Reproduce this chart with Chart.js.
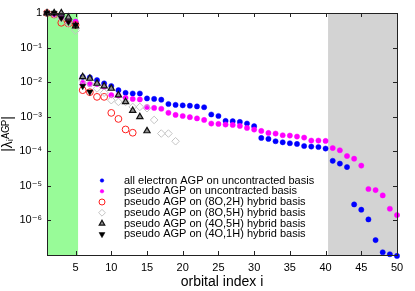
<!DOCTYPE html>
<html><head><meta charset="utf-8">
<script src="https://cdn.jsdelivr.net/npm/chart.js@4/dist/chart.umd.min.js"></script>
<style>html,body{margin:0;padding:0;background:#fff}#wrap{width:415px;height:291px}</style>
</head><body><div id="wrap"><canvas id="c" width="415" height="291"></canvas></div>
<script>
// ---- data ----
const seriesLabels = [
  'all electron AGP on uncontracted basis',
  'pseudo AGP on uncontracted basis',
  'pseudo AGP on (8O,2H) hybrid basis',
  'pseudo AGP on (8O,5H) hybrid basis',
  'pseudo AGP on (4O,5H) hybrid basis',
  'pseudo AGP on (4O,1H) hybrid basis'
];
const allElectronUncontracted = [
  1.0, 0.95, 0.8, 0.62, 0.55, 0.01425, 0.01368, 0.01143, 0.00917, 0.0077,
  0.00586, 0.0049, 0.0047, 0.0047, 0.00337, 0.00328, 0.00311, 0.00233, 0.0022, 0.00213,
  0.00208, 0.00198, 0.00188, 0.00116, 0.00105, 0.000755, 0.000741, 0.000707, 0.000635, 0.000531,
  0.000243, 0.000228, 0.000195, 0.000182, 0.000171, 0.000163, 0.000142, 0.000137, 0.000133, 0.00012,
  5.3e-5, 4.4e-5, 3.5e-5, 2.9e-6, 2.04e-6, 1.07e-6, 2.7e-7, 1.2e-7, 1.05e-7, 9.4e-8
];
const pseudoUncontracted = [
  1.0, 0.9, 0.75, 0.58, 0.56, 0.00955, 0.00875, 0.00875, 0.0073, 0.0042,
  0.00411, 0.00351, 0.00326, 0.00317, 0.00191, 0.0018, 0.0017, 0.0013, 0.00113, 0.00105,
  0.00097, 0.000893, 0.000807, 0.000635, 0.000618, 0.000594, 0.000578, 0.000541, 0.000473, 0.000425,
  0.000388, 0.000339, 0.000326, 0.000291, 0.000285, 0.000267, 0.000249, 0.000204, 0.000204, 0.000199,
  0.000124, 0.000107, 7.3e-5, 6.1e-5, 3.85e-5, 8.1e-6, 7.55e-6, 5.3e-6, 2.18e-6, 1.43e-6
];
const pseudo8O2H = [
  1.0, 0.9, 0.52, 0.5, 0.45, 0.00586, 0.00513, 0.00375, 0.00375, 0.00129,
  0.000863, 0.000428, 0.000344
];
const pseudo8O5H = [
  1.0, 0.9, 0.7, 0.5, 0.31, 0.0114, 0.00917, 0.00656, 0.00496, 0.00301,
  0.00268, 0.00268, 0.00192, 0.00192, 0.00176, 0.000807, 0.000326, 0.000326, 0.000195
];
const pseudo4O5H = [
  1.0, 1.0, 1.0, 0.75, 0.42, 0.01425, 0.0128, 0.00917, 0.00766, 0.00656,
  0.0042, 0.00268, 0.00151, 0.00099, 0.000388
];
const pseudo4O1H = [
  1.0, 1.0, 0.72, 0.55, 0.45, 0.00766, 0.00524
];
const xTickValues = [5, 10, 15, 20, 25, 30, 35, 40, 45, 50];
const yTickValues = [1, 1e-1, 1e-2, 1e-3, 1e-4, 1e-5, 1e-6];
const yTickLabels = ['1', '10\u207B\u00B9', '10\u207B\u00B2', '10\u207B\u00B3', '10\u207B\u2074', '10\u207B\u2075', '10\u207B\u2076'];
const greenRange = [1, 5.35];
const grayRange = [40.35, 50];

// ---- build ----
const toPts = arr => arr.map((v, k) => ({x: k + 1, y: v}));
const styles = [
  {pointStyle: 'circle', radius: 2.6, bg: '#0000ff', bc: '#0000ff', bw: 0.5, rot: 0, lr: 1.8},
  {pointStyle: 'circle', radius: 2.6, bg: '#ff00ff', bc: '#ff00ff', bw: 0.5, rot: 0, lr: 1.8},
  {pointStyle: 'circle', radius: 3.4, bg: 'rgba(0,0,0,0)', bc: '#ff2020', bw: 1, rot: 0, lr: 3},
  {pointStyle: 'rectRot', radius: 3.8, bg: 'rgba(0,0,0,0)', bc: '#c4c4c4', bw: 1, rot: 0, lr: 3.4},
  {pointStyle: 'triangle', radius: 3.6, bg: '#909090', bc: '#111111', bw: 1.2, rot: 0, lr: 3.2},
  {pointStyle: 'triangle', radius: 3.6, bg: '#000000', bc: '#000000', bw: 0.5, rot: 180, lr: 3.4}
];
const allSeries = [allElectronUncontracted, pseudoUncontracted, pseudo8O2H, pseudo8O5H, pseudo4O5H, pseudo4O1H];
const datasets = allSeries.map((arr, k) => ({
  label: seriesLabels[k],
  data: toPts(arr),
  pointStyle: styles[k].pointStyle,
  pointRadius: styles[k].radius,
  pointBackgroundColor: styles[k].bg,
  pointBorderColor: styles[k].bc,
  pointBorderWidth: styles[k].bw,
  pointRotation: styles[k].rot,
  showLine: false,
  clip: false,
  order: 6 - k
}));

const FONT = "'Liberation Sans', 'DejaVu Sans', Arial, sans-serif";

const decor = {
  id: 'decor',
  beforeDatasetsDraw(chart) {
    const {ctx, chartArea: a, scales: {x}} = chart;
    ctx.save();
    ctx.fillStyle = '#98fb98';
    const g0 = x.getPixelForValue(greenRange[0]), g1 = x.getPixelForValue(greenRange[1]);
    ctx.fillRect(g0, a.top, g1 - g0, a.bottom - a.top);
    ctx.fillStyle = '#d3d3d3';
    const r0 = x.getPixelForValue(grayRange[0]), r1 = x.getPixelForValue(grayRange[1]);
    ctx.fillRect(r0, a.top, r1 - r0, a.bottom - a.top);
    ctx.restore();
  },
  afterDatasetsDraw(chart) {
    const {ctx, chartArea: a, scales: {x, y}} = chart;
    ctx.save();
    ctx.strokeStyle = '#222';
    ctx.lineWidth = 1;
    ctx.strokeRect(Math.round(a.left) + 0.5, Math.round(a.top) + 0.5, Math.round(a.right - a.left), Math.round(a.bottom - a.top));
    ctx.beginPath();
    x.ticks.forEach(t => {
      const px = Math.round(x.getPixelForValue(t.value)) + 0.5;
      ctx.moveTo(px, a.bottom); ctx.lineTo(px, a.bottom - 4);
      ctx.moveTo(px, a.top); ctx.lineTo(px, a.top + 4);
    });
    y.ticks.forEach(t => {
      const py = Math.round(y.getPixelForValue(t.value)) + 0.5;
      ctx.moveTo(a.left, py); ctx.lineTo(a.left + 4, py);
      ctx.moveTo(a.right, py); ctx.lineTo(a.right - 4, py);
    });
    ctx.stroke();
    // legend inside plot
    ctx.font = '11px ' + FONT;
    ctx.textBaseline = 'middle';
    const mx = 102, tx = 124, y0 = 180.5, dy = 10.75;
    chart.data.datasets.forEach((ds, k) => {
      const yy = y0 + k * dy;
      ctx.fillStyle = ds.pointBackgroundColor;
      ctx.strokeStyle = ds.pointBorderColor;
      ctx.lineWidth = ds.pointBorderWidth;
      Chart.helpers.drawPoint(ctx, {
        pointStyle: ds.pointStyle, rotation: ds.pointRotation,
        radius: styles[k].lr, borderWidth: ds.pointBorderWidth
      }, mx, yy);
      ctx.fillStyle = '#000';
      ctx.fillText(ds.label, tx, yy);
    });
    ctx.restore();
  }
};

new Chart(document.getElementById('c'), {
  type: 'scatter',
  data: {datasets},
  options: {
    responsive: false,
    animation: false,
    devicePixelRatio: 1,
    layout: {padding: {left: 0, right: 18, top: 13, bottom: 0}},
    plugins: {legend: {display: false}, tooltip: {enabled: false}},
    scales: {
      x: {
        type: 'linear', min: 1, max: 50,
        afterBuildTicks: s => { s.ticks = xTickValues.map(v => ({value: v})); },
        afterFit: s => { s.height = 36; },
        grid: {display: false, drawTicks: false},
        border: {display: false},
        ticks: {color: '#000', font: {family: FONT, size: 11}, padding: 6, maxRotation: 0, autoSkip: false},
        title: {display: true, text: 'orbital index i', color: '#000', font: {family: FONT, size: 14}, padding: {top: 0, bottom: 0}}
      },
      y: {
        type: 'logarithmic', min: 1e-7, max: 1,
        afterBuildTicks: s => { s.ticks = yTickValues.map(v => ({value: v})); },
        afterFit: s => { s.width = 47; },
        grid: {display: false, drawTicks: false},
        border: {display: false},
        ticks: {
          color: '#000', font: {family: FONT, size: 11}, padding: 5, autoSkip: false,
          callback: v => { const i = yTickValues.indexOf(v); return i >= 0 ? yTickLabels[i] : ''; }
        },
        title: {display: true, text: '|\u03BB\u1D62\u1D2C\u1D33\u1D3E|', color: '#000', font: {family: FONT, size: 14}, padding: {top: 0, bottom: 0}}
      }
    }
  },
  plugins: [decor]
});
</script>
</body></html>
